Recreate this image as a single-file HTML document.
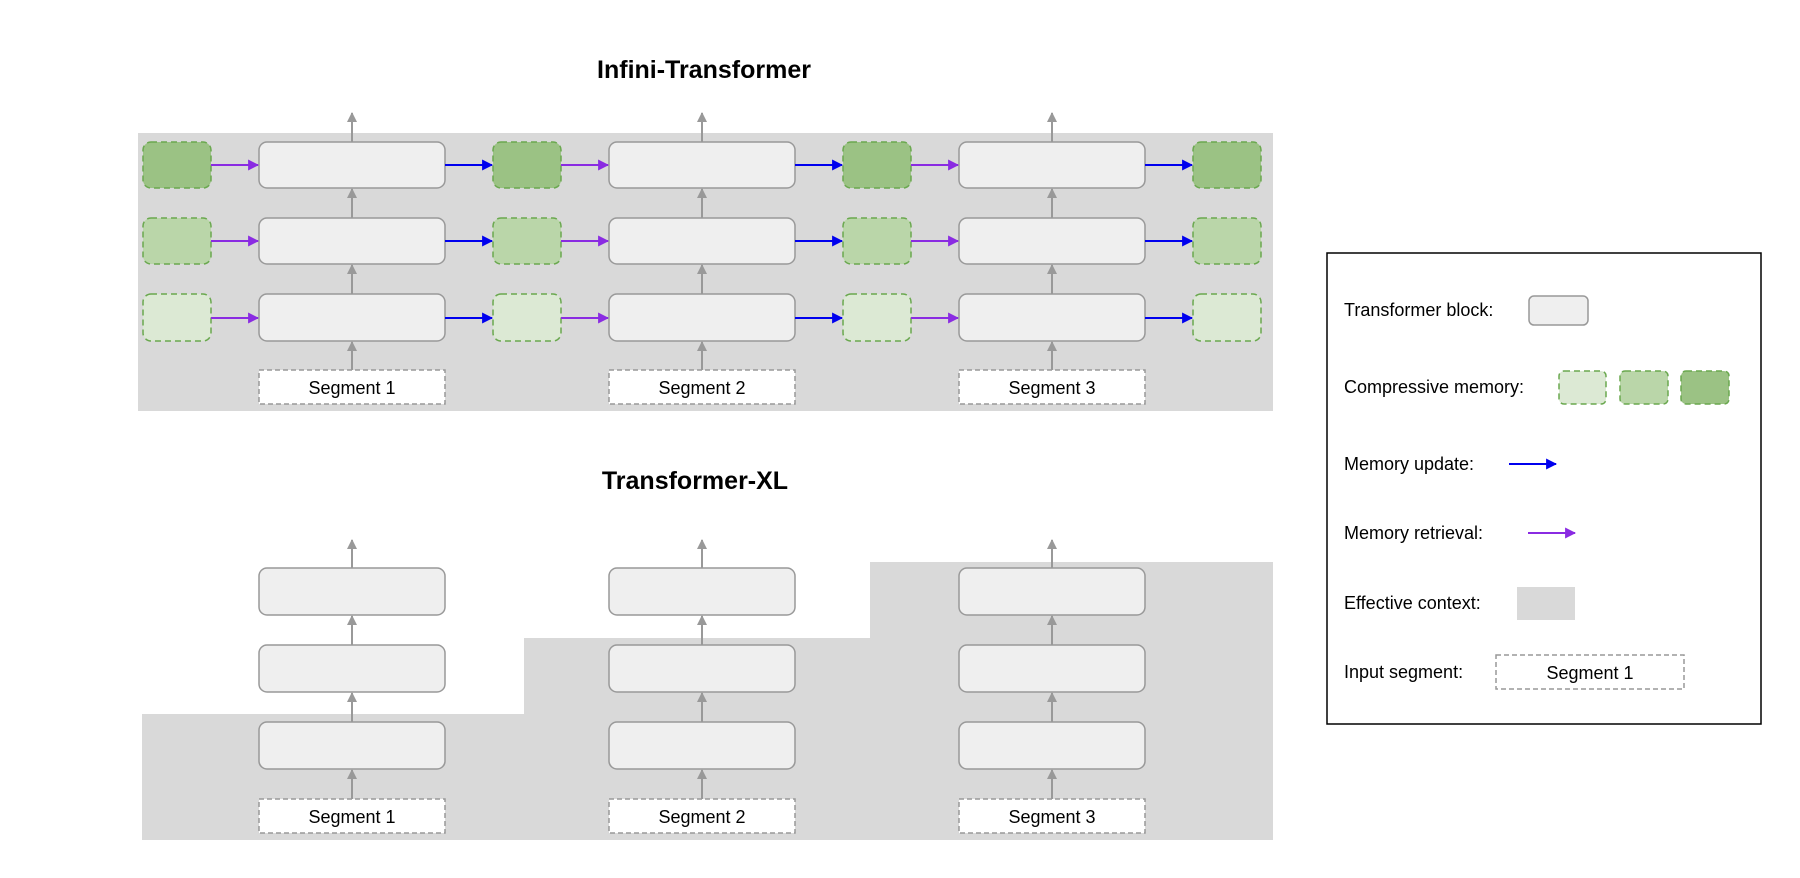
<!DOCTYPE html>
<html><head><meta charset="utf-8"><style>
html,body{margin:0;padding:0;background:#fff;}
svg{display:block;font-family:"Liberation Sans",Arial,sans-serif;}
</style></head><body>
<svg width="1800" height="878" viewBox="0 0 1800 878" xmlns="http://www.w3.org/2000/svg">
<defs>
<marker id="ag" viewBox="0 0 10 10" refX="9" refY="5" markerWidth="10" markerHeight="10" markerUnits="userSpaceOnUse" orient="auto"><path d="M0,0 L10,5 L0,10 z" fill="#999"/></marker>
<marker id="ab" viewBox="0 0 10 10" refX="9" refY="5" markerWidth="11" markerHeight="11" markerUnits="userSpaceOnUse" orient="auto"><path d="M0,0 L10,5 L0,10 z" fill="#0000ee"/></marker>
<marker id="ap" viewBox="0 0 10 10" refX="9" refY="5" markerWidth="11" markerHeight="11" markerUnits="userSpaceOnUse" orient="auto"><path d="M0,0 L10,5 L0,10 z" fill="#8a2be2"/></marker>
</defs>

<text x="704" y="78" font-size="25" font-weight="bold" text-anchor="middle">Infini-Transformer</text>
<rect x="138" y="133" width="1135" height="278" fill="#d9d9d9"/>

<g stroke="#6aa84f" stroke-width="1.5" stroke-dasharray="6,4">
<rect x="143" y="142" width="68" height="46" rx="8" fill="#9bc284"/>
<rect x="493" y="142" width="68" height="46" rx="8" fill="#9bc284"/>
<rect x="843" y="142" width="68" height="46" rx="8" fill="#9bc284"/>
<rect x="1193" y="142" width="68" height="46" rx="8" fill="#9bc284"/>
<rect x="143" y="218" width="68" height="46" rx="8" fill="#bad6a9"/>
<rect x="493" y="218" width="68" height="46" rx="8" fill="#bad6a9"/>
<rect x="843" y="218" width="68" height="46" rx="8" fill="#bad6a9"/>
<rect x="1193" y="218" width="68" height="46" rx="8" fill="#bad6a9"/>
<rect x="143" y="294" width="68" height="47" rx="8" fill="#dce9d4"/>
<rect x="493" y="294" width="68" height="47" rx="8" fill="#dce9d4"/>
<rect x="843" y="294" width="68" height="47" rx="8" fill="#dce9d4"/>
<rect x="1193" y="294" width="68" height="47" rx="8" fill="#dce9d4"/>
</g>
<g fill="#efefef" stroke="#999" stroke-width="1.5">
<rect x="259" y="142" width="186" height="46" rx="8"/>
<rect x="609" y="142" width="186" height="46" rx="8"/>
<rect x="959" y="142" width="186" height="46" rx="8"/>
<rect x="259" y="218" width="186" height="46" rx="8"/>
<rect x="609" y="218" width="186" height="46" rx="8"/>
<rect x="959" y="218" width="186" height="46" rx="8"/>
<rect x="259" y="294" width="186" height="47" rx="8"/>
<rect x="609" y="294" width="186" height="47" rx="8"/>
<rect x="959" y="294" width="186" height="47" rx="8"/>
</g>
<g fill="#fff" stroke="#999" stroke-width="1.5" stroke-dasharray="5,3">
<rect x="259" y="370" width="186" height="34"/>
<rect x="609" y="370" width="186" height="34"/>
<rect x="959" y="370" width="186" height="34"/>
</g>
<g font-size="18" text-anchor="middle">
<text x="352" y="394">Segment 1</text>
<text x="702" y="394">Segment 2</text>
<text x="1052" y="394">Segment 3</text>
</g>
<g stroke="#999" stroke-width="2" marker-end="url(#ag)">
<line x1="352" y1="370" x2="352" y2="342"/><line x1="352" y1="294" x2="352" y2="265"/><line x1="352" y1="218" x2="352" y2="189"/><line x1="352" y1="142" x2="352" y2="113"/>
<line x1="702" y1="370" x2="702" y2="342"/><line x1="702" y1="294" x2="702" y2="265"/><line x1="702" y1="218" x2="702" y2="189"/><line x1="702" y1="142" x2="702" y2="113"/>
<line x1="1052" y1="370" x2="1052" y2="342"/><line x1="1052" y1="294" x2="1052" y2="265"/><line x1="1052" y1="218" x2="1052" y2="189"/><line x1="1052" y1="142" x2="1052" y2="113"/>
</g>
<g stroke="#8a2be2" stroke-width="2" marker-end="url(#ap)">
<line x1="211" y1="165" x2="258" y2="165"/><line x1="561" y1="165" x2="608" y2="165"/><line x1="911" y1="165" x2="958" y2="165"/>
<line x1="211" y1="241" x2="258" y2="241"/><line x1="561" y1="241" x2="608" y2="241"/><line x1="911" y1="241" x2="958" y2="241"/>
<line x1="211" y1="318" x2="258" y2="318"/><line x1="561" y1="318" x2="608" y2="318"/><line x1="911" y1="318" x2="958" y2="318"/>
</g>
<g stroke="#0000ee" stroke-width="2" marker-end="url(#ab)">
<line x1="445" y1="165" x2="492" y2="165"/><line x1="795" y1="165" x2="842" y2="165"/><line x1="1145" y1="165" x2="1192" y2="165"/>
<line x1="445" y1="241" x2="492" y2="241"/><line x1="795" y1="241" x2="842" y2="241"/><line x1="1145" y1="241" x2="1192" y2="241"/>
<line x1="445" y1="318" x2="492" y2="318"/><line x1="795" y1="318" x2="842" y2="318"/><line x1="1145" y1="318" x2="1192" y2="318"/>
</g>

<text x="695" y="489" font-size="25" font-weight="bold" text-anchor="middle">Transformer-XL</text>
<rect x="142" y="714" width="383" height="126" fill="#d9d9d9"/>
<rect x="524" y="638" width="347" height="202" fill="#d9d9d9"/>
<rect x="870" y="562" width="403" height="278" fill="#d9d9d9"/>
<g fill="#efefef" stroke="#999" stroke-width="1.5">
<rect x="259" y="568" width="186" height="47" rx="8"/>
<rect x="609" y="568" width="186" height="47" rx="8"/>
<rect x="959" y="568" width="186" height="47" rx="8"/>
<rect x="259" y="645" width="186" height="47" rx="8"/>
<rect x="609" y="645" width="186" height="47" rx="8"/>
<rect x="959" y="645" width="186" height="47" rx="8"/>
<rect x="259" y="722" width="186" height="47" rx="8"/>
<rect x="609" y="722" width="186" height="47" rx="8"/>
<rect x="959" y="722" width="186" height="47" rx="8"/>
</g>
<g fill="#fff" stroke="#999" stroke-width="1.5" stroke-dasharray="5,3">
<rect x="259" y="799" width="186" height="34"/>
<rect x="609" y="799" width="186" height="34"/>
<rect x="959" y="799" width="186" height="34"/>
</g>
<g font-size="18" text-anchor="middle">
<text x="352" y="823">Segment 1</text>
<text x="702" y="823">Segment 2</text>
<text x="1052" y="823">Segment 3</text>
</g>
<g stroke="#999" stroke-width="2" marker-end="url(#ag)">
<line x1="352" y1="799" x2="352" y2="770"/><line x1="352" y1="722" x2="352" y2="693"/><line x1="352" y1="645" x2="352" y2="616"/><line x1="352" y1="568" x2="352" y2="540"/>
<line x1="702" y1="799" x2="702" y2="770"/><line x1="702" y1="722" x2="702" y2="693"/><line x1="702" y1="645" x2="702" y2="616"/><line x1="702" y1="568" x2="702" y2="540"/>
<line x1="1052" y1="799" x2="1052" y2="770"/><line x1="1052" y1="722" x2="1052" y2="693"/><line x1="1052" y1="645" x2="1052" y2="616"/><line x1="1052" y1="568" x2="1052" y2="540"/>
</g>

<!-- Legend -->
<rect x="1327" y="253" width="434" height="471" fill="#fff" stroke="#000" stroke-width="1.5"/>
<g font-size="18">
<text x="1344" y="316">Transformer block:</text>
<text x="1344" y="393">Compressive memory:</text>
<text x="1344" y="470">Memory update:</text>
<text x="1344" y="539">Memory retrieval:</text>
<text x="1344" y="609">Effective context:</text>
<text x="1344" y="678">Input segment:</text>
</g>
<rect x="1529" y="296" width="59" height="29" rx="5" fill="#efefef" stroke="#999" stroke-width="1.5"/>
<g stroke="#6aa84f" stroke-width="1.5" stroke-dasharray="6,4">
<rect x="1559" y="371" width="47" height="33" rx="5" fill="#dce9d4"/>
<rect x="1620" y="371" width="48" height="33" rx="5" fill="#bad6a9"/>
<rect x="1681" y="371" width="48" height="33" rx="5" fill="#9bc284"/>
</g>
<line x1="1509" y1="464" x2="1556" y2="464" stroke="#0000ee" stroke-width="2" marker-end="url(#ab)"/>
<line x1="1528" y1="533" x2="1575" y2="533" stroke="#8a2be2" stroke-width="2" marker-end="url(#ap)"/>
<rect x="1517" y="587" width="58" height="33" fill="#d9d9d9"/>
<rect x="1496" y="655" width="188" height="34" fill="#fff" stroke="#999" stroke-width="1.5" stroke-dasharray="5,3"/>
<text x="1590" y="679" font-size="18" text-anchor="middle">Segment 1</text>
</svg>
</body></html>
